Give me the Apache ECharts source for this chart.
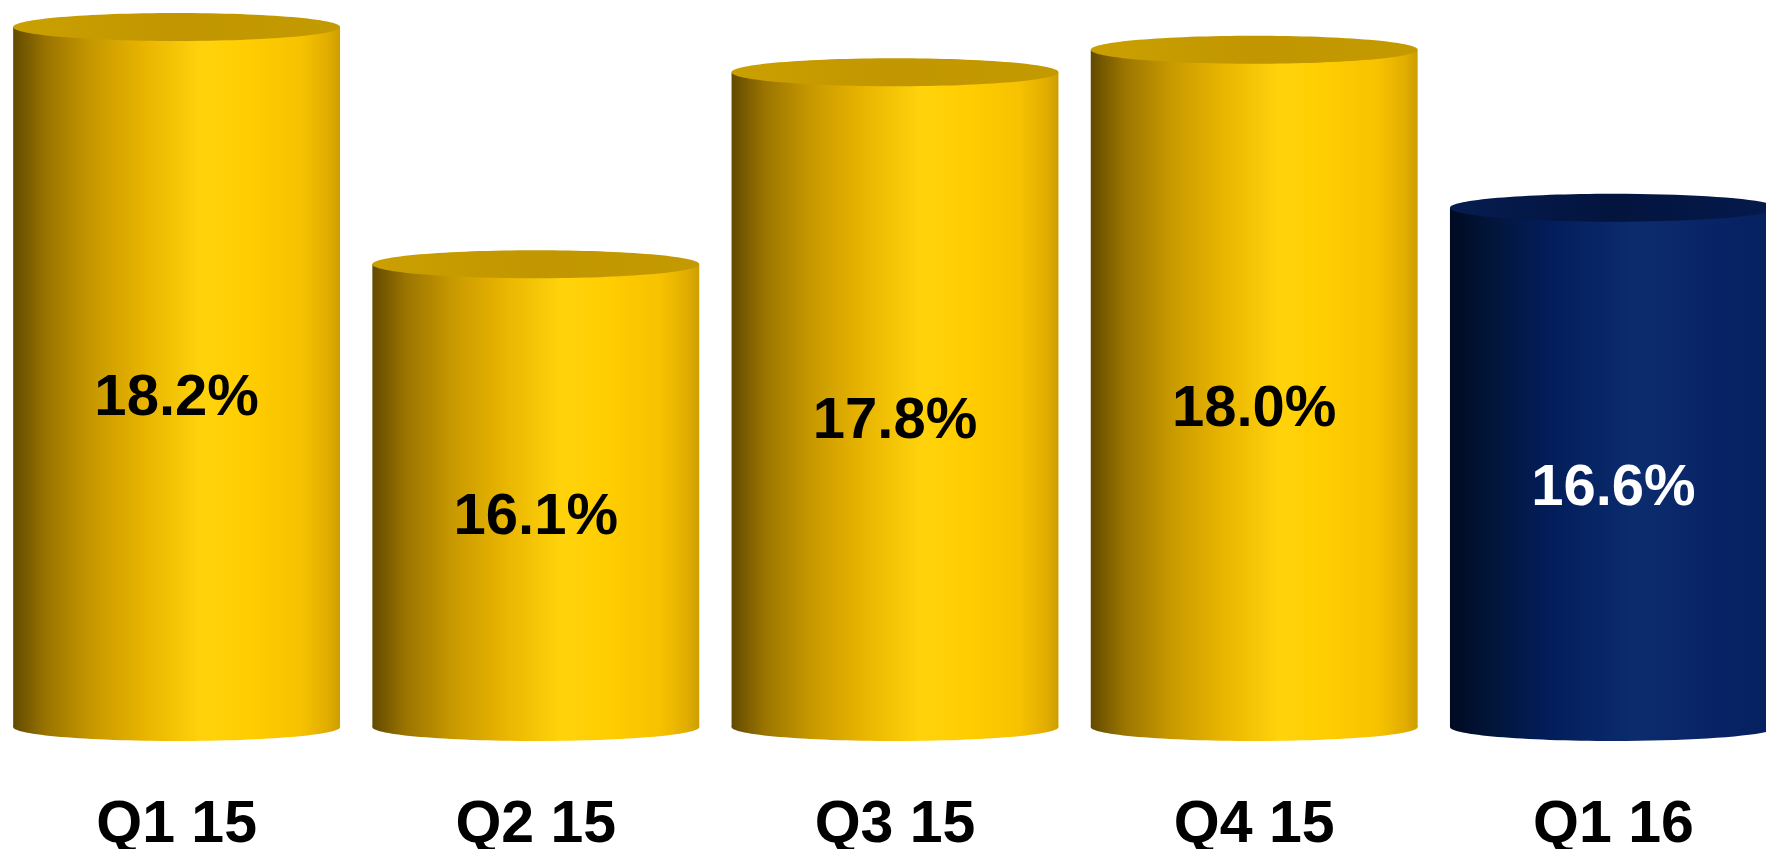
<!DOCTYPE html>
<html>
<head>
<meta charset="utf-8">
<title>Quarterly ratio</title>
<script src="https://cdn.jsdelivr.net/npm/echarts@6/dist/echarts.min.js"></script>
<style>
  html, body { margin: 0; padding: 0; background: #ffffff; }
  #chart { width: 1766px; height: 849px; }
</style>
</head>
<body>
<div id="chart"></div>
<script>
// Quarter labels and the ratio for each quarter (percent)
const categories = ['Q1 15', 'Q2 15', 'Q3 15', 'Q4 15', 'Q1 16'];
const values = [18.2, 16.1, 17.8, 18.0, 16.6];

// Value axis range
const axisMin = 12;
const axisMax = 18.44;

// Cylinder shading: the latest quarter is drawn in navy, the rest in gold
const gold = {
  body: [
    [0.00, '#624a00'], [0.10, '#9a7400'], [0.25, '#c99a00'], [0.40, '#e8b400'],
    [0.58, '#ffd30c'], [0.72, '#ffcd00'], [0.88, '#f7c200'], [0.96, '#e2ae00'], [1.00, '#cc9e00']
  ],
  top: [[0, '#caa000'], [0.5, '#c19600'], [1, '#c49a00']],
  text: '#000000'
};
const navy = {
  body: [
    [0.00, '#000a22'], [0.12, '#021538'], [0.30, '#021d5a'], [0.57, '#0c2c6e'],
    [0.80, '#082466'], [1.00, '#05205e']
  ],
  top: [[0, '#061c50'], [0.5, '#03143e'], [1, '#051a4c']],
  text: '#ffffff'
};

function hGrad(stops) {
  return new echarts.graphic.LinearGradient(0, 0, 1, 0,
    stops.map(s => ({ offset: s[0], color: s[1] })));
}

const chart = echarts.init(document.getElementById('chart'), null, { renderer: 'canvas' });

chart.setOption({
  backgroundColor: '#ffffff',
  animation: false,
  grid: { left: -3, right: -27, top: 0, bottom: 122, outerBoundsMode: 'none' },
  xAxis: {
    type: 'category',
    data: categories,
    axisLine: { show: false },
    axisTick: { show: false },
    axisLabel: {
      margin: 69,
      color: '#000000',
      fontFamily: 'Liberation Sans, Arial, sans-serif',
      fontWeight: 'bold',
      fontSize: 59
    }
  },
  yAxis: {
    type: 'value',
    min: axisMin,
    max: axisMax,
    show: false
  },
  series: [{
    type: 'custom',
    data: values.map((v, i) => [i, v]),
    encode: { x: 0, y: 1 },
    clip: false,
    renderItem(params, api) {
      const idx = api.value(0);
      const val = api.value(1);
      const top = api.coord([idx, val]);
      const base = api.coord([idx, axisMin]);
      const w = api.size([1, 0])[0] * 0.91;
      const rx = w / 2;
      const ry = 14;
      const cx = top[0];
      const topY = top[1];
      const botY = base[1];
      const pal = params.dataIndex === values.length - 1 ? navy : gold;
      return {
        type: 'group',
        children: [
          {
            type: 'rect',
            shape: { x: cx - rx, y: topY, width: w, height: botY - topY },
            style: { fill: hGrad(pal.body) }
          },
          {
            type: 'ellipse',
            shape: { cx: cx, cy: botY, rx: rx, ry: ry },
            style: { fill: hGrad(pal.body) }
          },
          {
            type: 'ellipse',
            shape: { cx: cx, cy: topY, rx: rx, ry: ry },
            style: { fill: hGrad(pal.top) }
          },
          {
            type: 'text',
            style: {
              text: val.toFixed(1) + '%',
              x: cx,
              y: (topY + botY) / 2 + 22,
              align: 'center',
              verticalAlign: 'middle',
              fontFamily: 'Liberation Sans, Arial, sans-serif',
              fontWeight: 'bold',
              fontSize: 58,
              fill: pal.text
            }
          }
        ]
      };
    }
  }]
});
</script>
</body>
</html>
